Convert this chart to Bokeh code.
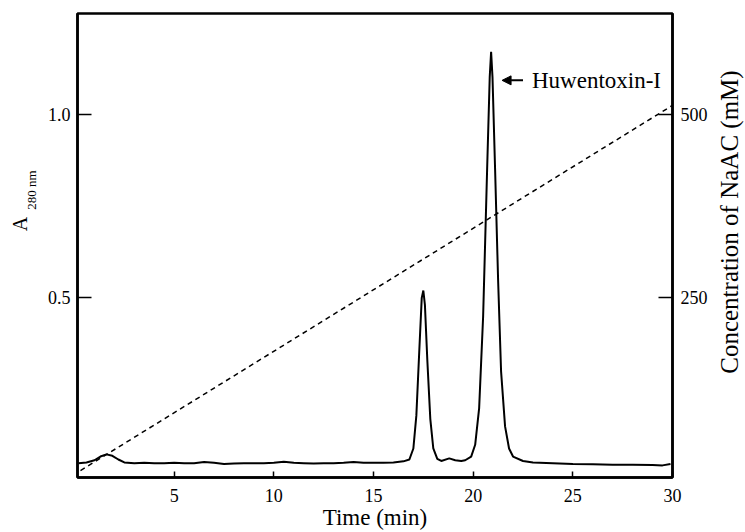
from math import pi
from bokeh.plotting import figure
from bokeh.layouts import row
from bokeh.models import (Range1d, LinearAxis, FixedTicker, PrintfTickFormatter,
                          Label, Arrow, NormalHead)
from bokeh.core.properties import value
from bokeh.embed import file_html
from bokeh.resources import INLINE

# ---- data ----
time_min = [0.2, 0.6, 1.0, 1.3, 1.6, 1.9, 2.2, 2.5, 3.0, 3.5, 4.0, 4.5, 5.0, 5.5,
            6.0, 6.5, 7.0, 7.5, 8.0, 8.5, 9.0, 9.5, 10.0, 10.5, 11.0, 11.5, 12.0,
            12.5, 13.0, 13.5, 14.0, 14.5, 15.0, 15.5, 16.0, 16.5, 16.8, 17.0, 17.15,
            17.3, 17.42, 17.5, 17.58, 17.7, 17.85, 18.0, 18.2, 18.4, 18.8, 19.1,
            19.4, 19.6, 19.9, 20.1, 20.3, 20.5, 20.7, 20.83, 20.9, 20.97, 21.1,
            21.25, 21.4, 21.6, 21.8, 22.0, 22.5, 23.0, 24.0, 25.0, 26.0, 27.0,
            28.0, 29.0, 29.5, 29.9]
a280 = [0.050, 0.052, 0.058, 0.068, 0.074, 0.070, 0.060, 0.052, 0.050, 0.051,
        0.050, 0.050, 0.051, 0.050, 0.050, 0.053, 0.051, 0.048, 0.049, 0.050,
        0.050, 0.050, 0.051, 0.054, 0.051, 0.050, 0.049, 0.050, 0.050, 0.051,
        0.053, 0.051, 0.051, 0.051, 0.052, 0.055, 0.060, 0.09, 0.18, 0.36, 0.50,
        0.52, 0.48, 0.33, 0.17, 0.09, 0.062, 0.056, 0.063, 0.058, 0.056, 0.058,
        0.068, 0.10, 0.20, 0.45, 0.85, 1.10, 1.17, 1.10, 0.85, 0.55, 0.30, 0.15,
        0.09, 0.068, 0.056, 0.052, 0.050, 0.048, 0.047, 0.046, 0.046, 0.045,
        0.044, 0.048]

grad_time = [0.3, 30.0]
grad_conc = [15, 512]

x_ticks = [5, 10, 15, 20, 25, 30]
y_ticks = [0.5, 1.0]
conc_ticks = [250, 500]

peak_name = "Huwentoxin-I"
x_title = "Time (min)"
y_title_main = "A"
y_title_sub = "280 nm"
y2_title = "Concentration of NaAC (mM)"

FONT = "Liberation Serif"
TICK_SIZE = "18px"
H = 532
TOP, BOTTOM = 13, 54   # borders around the plotting frame

# ---------------- main chart ----------------
p = figure(width=672, height=H, output_backend="svg", toolbar_location=None,
           x_range=Range1d(0.15, 30.0), y_range=Range1d(0.011, 1.274),
           min_border_left=39, min_border_right=34, min_border_top=TOP,
           min_border_bottom=BOTTOM)
p.extra_y_ranges = {"conc": Range1d(5.5, 637)}
p.xgrid.visible = False
p.ygrid.visible = False
p.outline_line_color = "black"
p.outline_line_width = 2.5
p.outline_line_alpha = 1.0
p.background_fill_color = "white"
p.border_fill_color = "white"

xa = p.xaxis[0]
xa.ticker = FixedTicker(ticks=x_ticks)
xa.major_tick_in = 6
xa.major_tick_out = 0
xa.minor_tick_line_color = None
xa.axis_line_width = 2.5
xa.major_tick_line_width = 1.5
xa.major_label_standoff = 11
xa.major_label_text_font = FONT
xa.major_label_text_font_size = TICK_SIZE
xa.major_label_text_color = "black"
xa.axis_label = x_title
xa.axis_label_standoff = 0
xa.axis_label_text_font = FONT
xa.axis_label_text_font_size = "23px"
xa.axis_label_text_font_style = "normal"
xa.axis_label_text_color = "black"

ya = p.yaxis[0]
ya.ticker = FixedTicker(ticks=y_ticks)
ya.formatter = PrintfTickFormatter(format="%.1f")
ya.major_tick_in = 14
ya.major_tick_out = 0
ya.minor_tick_line_color = None
ya.axis_line_width = 2.5
ya.major_tick_line_width = 1.5
ya.major_label_standoff = 7
ya.major_label_text_font = FONT
ya.major_label_text_font_size = TICK_SIZE
ya.major_label_text_color = "black"

ra = LinearAxis(y_range_name="conc", ticker=FixedTicker(ticks=conc_ticks))
ra.major_tick_in = 14
ra.major_tick_out = 0
ra.minor_tick_line_color = None
ra.axis_line_width = 2.5
ra.major_tick_line_width = 1.5
ra.major_label_standoff = 8
ra.major_label_text_font = FONT
ra.major_label_text_font_size = TICK_SIZE
ra.major_label_text_color = "black"
p.add_layout(ra, "right")

p.line(time_min, a280, line_color="black", line_width=2)
p.line(grad_time, grad_conc, y_range_name="conc", line_color="black",
       line_width=1.5, line_dash="5 4")

p.add_layout(Arrow(end=NormalHead(size=9, fill_color="black", line_color="black"),
                   x_start=22.5, y_start=1.092, x_end=21.45, y_end=1.092,
                   line_width=2, line_color="black"))
p.add_layout(Label(x=22.95, y=1.092, text=peak_name, text_baseline="middle",
                   text_align="left", text_font=FONT, text_font_size="23px",
                   text_color="black"))


def side_fig(w):
    # frame aligned with the main frame; data units = page pixels (y upward)
    f = figure(width=w, height=H, output_backend="svg", toolbar_location=None,
               x_range=Range1d(0, w), y_range=Range1d(BOTTOM, H - TOP),
               min_border_left=0, min_border_right=0, min_border_top=TOP,
               min_border_bottom=BOTTOM,
               x_axis_location=None, y_axis_location=None)
    f.grid.visible = False
    f.outline_line_color = None
    f.background_fill_color = "white"
    f.border_fill_color = "white"
    return f


# left title: A with subscript 280 nm
left = side_fig(38)
left.text(x=[19], y=[H - 224], text=[y_title_main], angle=pi / 2,
          text_align="center", text_baseline="middle",
          text_font=value(FONT), text_font_size=value("20px"), text_color="black")
left.text(x=[31], y=[H - 190], text=[y_title_sub], angle=pi / 2,
          text_align="center", text_baseline="middle",
          text_font=value(FONT), text_font_size=value("13px"), text_color="black")

# right title (reads bottom to top)
right = side_fig(35)
right.text(x=[19], y=[H - 222], text=[y2_title], angle=pi / 2,
           text_align="center", text_baseline="middle",
           text_font=value(FONT), text_font_size=value("25px"), text_color="black")

layout = row(left, p, right, spacing=0)
open("out.html", "w").write(file_html(layout, INLINE))
